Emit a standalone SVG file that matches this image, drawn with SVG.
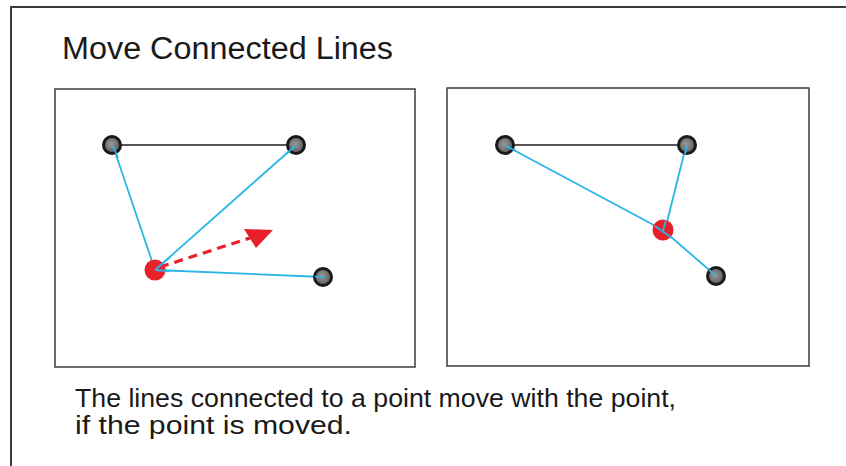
<svg xmlns="http://www.w3.org/2000/svg" width="846" height="466" viewBox="0 0 846 466">
<defs>
<style>
.frame{fill:none;stroke:#3a3a3a;stroke-width:2}
.panel{fill:#fff;stroke:#3c3c3c;stroke-width:1.5}
.gray{stroke:#555;stroke-width:2}
.blue{stroke:#29b6e8;stroke-width:1.8;fill:none}
.pt{stroke:#1a1a1a;stroke-width:3}
.red{fill:#e8202a}
.title{font-family:"Liberation Sans",Arial,sans-serif;font-size:31px;fill:#1a1a1a}
.body{font-family:"Liberation Sans",Arial,sans-serif;font-size:25px;fill:#1a1a1a}
</style>
<radialGradient id="g" cx="0.45" cy="0.45" r="0.6">
<stop offset="0" stop-color="#9a9a9a"/>
<stop offset="1" stop-color="#555"/>
</radialGradient>
</defs>
<rect width="846" height="466" fill="#fff"/>
<path class="frame" d="M11 470 V7 H850"/>
<text class="title" x="62" y="59" textLength="331" lengthAdjust="spacingAndGlyphs">Move Connected Lines</text>
<g id="panel1">
<rect class="panel" x="55" y="89" width="360" height="278"/>
</g>
<g id="panel2">
<rect class="panel" x="447" y="88" width="362" height="278"/>
</g>
<g id="connectors">
<line class="gray" x1="112" y1="145" x2="296" y2="145"/>
<line class="blue" x1="113" y1="146" x2="155" y2="270"/>
<line class="blue" x1="155" y1="270" x2="295" y2="146"/>
<line class="blue" x1="155" y1="270" x2="323" y2="277"/>
<line x1="160" y1="267" x2="250" y2="238" stroke="#e8202a" stroke-width="3.2" stroke-dasharray="9 6"/>
<polygon points="273,230 244,229 256,248" fill="#e8202a"/>
<line class="gray" x1="505" y1="145" x2="687" y2="145"/>
<line class="blue" x1="506" y1="146" x2="663" y2="230"/>
<line class="blue" x1="663" y1="230" x2="715" y2="275"/>
<line class="blue" x1="686" y1="146" x2="665" y2="230"/>
</g>
<g id="p1a"><circle class="pt" cx="112" cy="145" r="8.5" fill="url(#g)"/></g>
<g id="p1b"><circle class="pt" cx="296" cy="145" r="8.5" fill="url(#g)"/></g>
<g id="p1c"><circle class="pt" cx="323" cy="277" r="8.5" fill="url(#g)"/></g>
<g id="p1red"><circle class="red" cx="155" cy="270" r="10.5"/></g>
<g id="p2a"><circle class="pt" cx="505" cy="145" r="8.5" fill="url(#g)"/></g>
<g id="p2b"><circle class="pt" cx="687" cy="145" r="8.5" fill="url(#g)"/></g>
<g id="p2c"><circle class="pt" cx="716" cy="276" r="8.5" fill="url(#g)"/></g>
<g id="p2red"><circle class="red" cx="663" cy="230" r="10.5"/></g>
<g id="overlay">
<line class="blue" x1="113" y1="146" x2="118" y2="158"/>
<line class="blue" x1="155" y1="270" x2="170" y2="257"/>
<line class="blue" x1="155" y1="270" x2="170" y2="271"/>
<line class="blue" x1="655" y1="226" x2="672" y2="238"/>
<line class="blue" x1="663" y1="231" x2="666" y2="220"/>
<line class="blue" x1="286" y1="154" x2="295" y2="146"/>
<line class="blue" x1="687" y1="146" x2="685" y2="154"/>
<line class="blue" x1="506" y1="146" x2="516" y2="151"/>
<line class="blue" x1="709" y1="270" x2="715" y2="275"/>
<line class="blue" x1="315" y1="276.6" x2="323" y2="277"/>
</g>
<text class="body" x="75" y="407" textLength="601" lengthAdjust="spacingAndGlyphs">The lines connected to a point move with the point,</text>
<text class="body" x="75" y="434" textLength="277" lengthAdjust="spacingAndGlyphs">if the point is moved.</text>
</svg>
